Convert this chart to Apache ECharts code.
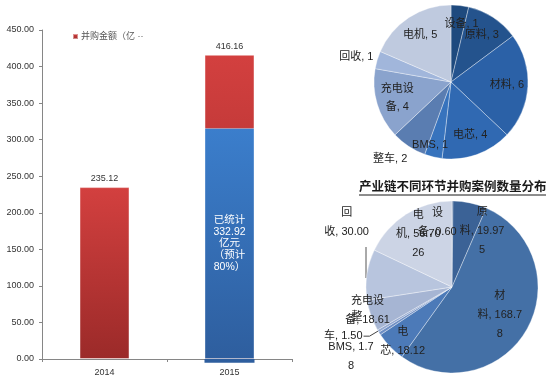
<!DOCTYPE html>
<html><head><meta charset="utf-8">
<script src="https://cdn.jsdelivr.net/npm/echarts@6/dist/echarts.min.js"></script>
<style>html,body{margin:0;padding:0;background:#fff}#c{width:558px;height:385px}</style>
</head><body><div id="c"></div>
<script>
// ---------- data ----------
const years = ['2014', '2015'];
const mergerAmount = [235.12, 416.16];          // 并购金额（亿元）
const countedAmount = [null, 316];              // blue box top
const countedBelow = [null, -5];                // blue box sticks slightly below axis
const countedLabel = '已统计\n332.92\n亿元\n（预计\n80%）';
const legendName = '并购金额（亿元）';
const yMin = 0, yMax = 450, yStep = 50;

const pie1Names = ['设备', '原料', '材料', '电芯', 'BMS', '整车', '充电设备', '回收', '电机'];
const pie1Counts = [1, 3, 6, 4, 1, 2, 4, 1, 5];

const pie2Names = ['设备', '原料', '材料', '电芯', 'BMS', '整车', '充电设备', '回收', '电机'];
const pie2Amounts = [0.60, 19.975, 168.78, 18.12, 1.78, 1.50, 18.61, 30.00, 56.7026];
const pie2LabelText = ['设\n备, 0.60', '原\n料, 19.97\n5', '材\n料, 168.7\n8', '电\n芯, 18.12',
  'BMS, 1.7\n8', '整\n车, 1.50', '充电设\n备, 18.61', '回\n收, 30.00', '电\n机, 56.70\n26'];
const pieTitle = '产业链不同环节并购案例数量分布';

// ---------- styles ----------
const pie1Colors = ['#1e4a7e', '#24538d', '#2b61a7', '#3069b2', '#3773bd', '#5a7db1', '#8aa3cd', '#a1b6db', '#bfcadf'];
const pie2Colors = ['#385d92', '#3b6296', '#4470a6', '#4c7ab8', '#6f8fc4', '#93a8d0', '#a6b5d3', '#b8c5de', '#ccd4e5'];
const pie1Nudge = [[4, -2], [0, 0], [0, 0], [0, 0], [-8, 8], [-30, 30], [0, 0], [-41, -9], [0, 0]];
const pie2Nudge = [[-15, -2], [17, 6], [-7, -3], [-4, 11], [-48, 35], [0, -10], [-25, 3], [-43, -55], [0, 0]];
const latin = "'Liberation Sans','Noto Sans CJK SC',sans-serif";

const chart = echarts.init(document.getElementById('c'), null, {renderer: 'canvas'});

const redGrad = new echarts.graphic.LinearGradient(0, 0, 0, 1, [
  {offset: 0, color: '#d3403f'}, {offset: 1, color: '#9b2a29'}]);
const blueGrad = new echarts.graphic.LinearGradient(0, 0, 0, 1, [
  {offset: 0, color: '#3b7ecc'}, {offset: 1, color: '#2e5e9e'}]);

function pieData(names, values, colors) {
  return names.map((n, i) => ({name: n, value: values[i], itemStyle: {color: colors[i]}}));
}
function carrierData(names, values, outsideIdx) {
  return names.map((n, i) => {
    const d = {name: n, value: values[i]};
    if (outsideIdx.indexOf(i) >= 0) {
      d.label = {position: 'outside', distanceToLabelLine: 1};
      d.labelLine = {show: true, length: 10, length2: 6, lineStyle: {color: '#444', width: 1}};
    }
    return d;
  });
}

const option = {
  animation: false,
  backgroundColor: '#fff',
  title: {
    text: pieTitle, left: 359, top: 180, padding: 0,
    textStyle: {fontSize: 12.5, fontWeight: 'bold', color: '#1a1a1a', fontFamily: "'Noto Sans CJK SC',sans-serif"}
  },
  legend: {
    data: [legendName], left: 72, top: 32, padding: 0,
    icon: 'rect', itemWidth: 5, itemHeight: 5, itemGap: 4,
    textStyle: {fontSize: 9, color: '#555', fontFamily: latin, width: 66, overflow: 'truncate', ellipsis: ' ··', padding: [0, 0, 0, -2]}
  },
  grid: {left: 42, top: 30, width: 250, height: 329},
  xAxis: {
    type: 'category', data: years,
    axisLine: {lineStyle: {color: '#868686', width: 1}},
    axisTick: {show: true, length: 3, lineStyle: {color: '#868686'}},
    axisLabel: {fontSize: 9, color: '#333', margin: 9, fontFamily: latin}
  },
  yAxis: {
    type: 'value', min: yMin, max: yMax, interval: yStep,
    axisLine: {show: true, lineStyle: {color: '#868686', width: 1}},
    axisTick: {show: true, length: 3, lineStyle: {color: '#868686'}},
    splitLine: {show: false},
    axisLabel: {fontSize: 9, color: '#333', margin: 8, fontFamily: latin, formatter: v => v.toFixed(2)}
  },
  series: [
    {
      name: legendName, type: 'bar', data: mergerAmount, barWidth: 50, barGap: '-100%',
      itemStyle: {color: redGrad, borderColor: 'rgba(255,255,255,0.45)', borderWidth: 1},
      label: {show: true, position: 'top', distance: 4, fontSize: 9, color: '#333', fontFamily: latin,
        formatter: p => p.value.toFixed(2)}
    },
    {
      name: 'counted', type: 'bar', stack: 'cnt', data: countedAmount, barWidth: 50, clip: false,
      itemStyle: {color: blueGrad, borderColor: 'rgba(255,255,255,0.35)', borderWidth: 1},
      label: {show: true, position: 'inside', formatter: countedLabel, color: '#fff',
        fontSize: 10.5, lineHeight: 11.8, fontFamily: latin}
    },
    {
      name: 'countedBelow', type: 'bar', stack: 'cnt', data: countedBelow, barWidth: 50, clip: false,
      itemStyle: {color: '#2e5e9e'}, silent: true
    },
    // ---- pie 1 : counts ----
    {
      type: 'pie', center: [451, 82], radius: [0, 77], silent: true,
      data: pieData(pie1Names, pie1Counts, pie1Colors),
      itemStyle: {borderColor: 'rgba(255,255,255,0.45)', borderWidth: 0.8},
      label: {show: false}, labelLine: {show: false}
    },
    {
      type: 'pie', center: [451, 82], radius: [29, 77], silent: true, avoidLabelOverlap: false,
      data: carrierData(pie1Names, pie1Counts, []),
      itemStyle: {color: 'rgba(0,0,0,0)'},
      label: {show: true, position: 'inside', fontSize: 11, color: '#222', lineHeight: 18, fontFamily: latin,
        formatter: p => (p.name === '充电设备' ? '充电设\n备' : p.name) + ', ' + p.value},
      labelLine: {show: false},
      labelLayout: p => ({dx: pie1Nudge[p.dataIndex][0], dy: pie1Nudge[p.dataIndex][1]})
    },
    // ---- pie 2 : amounts ----
    {
      type: 'pie', center: [452, 287], radius: [0, 86], silent: true,
      data: pieData(pie2Names, pie2Amounts, pie2Colors),
      itemStyle: {borderColor: 'rgba(255,255,255,0.45)', borderWidth: 0.8},
      label: {show: false}, labelLine: {show: false}
    },
    {
      type: 'pie', center: [452, 287], radius: [34, 86], silent: true, avoidLabelOverlap: false,
      data: carrierData(pie2Names, pie2Amounts, [5]),
      itemStyle: {color: 'rgba(0,0,0,0)'},
      label: {show: true, position: 'inside', fontSize: 11, color: '#222', lineHeight: 19, fontFamily: latin,
        formatter: p => pie2LabelText[p.dataIndex]},
      labelLine: {show: false},
      labelLayout: p => ({dx: pie2Nudge[p.dataIndex][0], dy: pie2Nudge[p.dataIndex][1]})
    }
  ],
  graphic: [
    // title underline
    {type: 'line', shape: {x1: 359, y1: 195, x2: 546, y2: 195}, style: {stroke: '#1a1a1a', lineWidth: 1}},
    // leader line of the 回收 label
    {type: 'line', shape: {x1: 366, y1: 247, x2: 366, y2: 278}, style: {stroke: '#555', lineWidth: 1}}
  ]
};
chart.setOption(option);
</script>
</body></html>
